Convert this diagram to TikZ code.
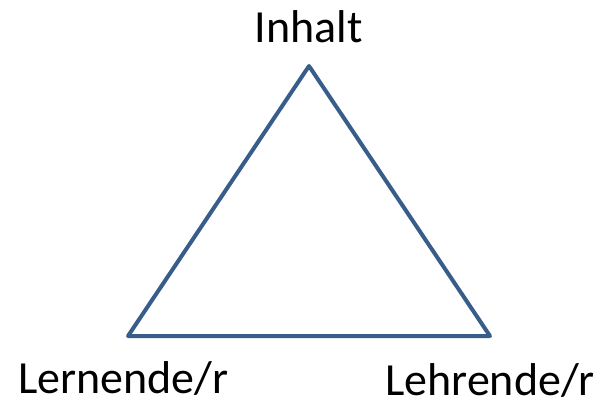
\documentclass[tikz,border=0pt]{standalone}
\usepackage{fontspec}
\setmainfont{Carlito}
\usetikzlibrary{positioning}
\definecolor{edgeblue}{RGB}{56,93,138}

\begin{document}
\begin{tikzpicture}[
    x=1pt, y=1pt,
    label/.style ={font=\fontsize{46}{55}\selectfont, inner sep=0pt, text=black},
    side/.style  ={draw=edgeblue, line width=4pt, line join=round}
]
\useasboundingbox (0,0) rectangle (599,400);

% =================== corners ===================
\coordinate (top)   at (309,334);
\coordinate (left)  at (128,64);
\coordinate (right) at (490,64);

% =================== labels ===================
\node[label, anchor=base] (inhalt) at (308.5,357) {Inhalt};
\node[label, anchor=base west] (lernende) at (18,7) {Lernende/r};
\node[label, anchor=base west] (lehrende) at (385,5) {Lehrende/r};

% --- triangle ---
\draw[side] (top) -- (right) -- (left) -- cycle;

\end{tikzpicture}
\end{document}
